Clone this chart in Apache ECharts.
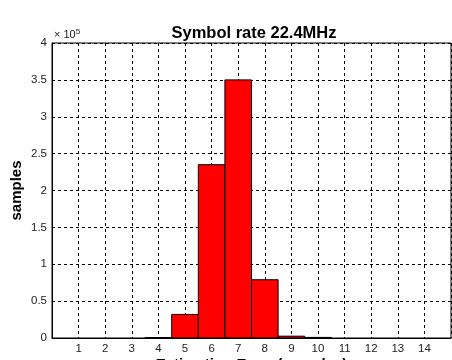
<!DOCTYPE html>
<html>
<head>
<meta charset="utf-8">
<script src="https://cdn.jsdelivr.net/npm/echarts@6/dist/echarts.min.js"></script>
<style>
  html, body { margin: 0; padding: 0; background: #fff; }
  #chart { width: 452px; height: 360px; }
</style>
</head>
<body>
<div id="chart"></div>
<script>
// Histogram of estimation error, counts in units of 1e5 samples
const errorBins = [4, 5, 6, 7, 8, 9, 10];
const sampleCounts = [0.006, 0.32, 2.35, 3.5, 0.79, 0.025, 0.008];
const xTicks = [1, 2, 3, 4, 5, 6, 7, 8, 9, 10, 11, 12, 13, 14];
const yTicks = [0, 0.5, 1, 1.5, 2, 2.5, 3, 3.5, 4];

const FONT = 'Liberation Sans, Arial, sans-serif';
const chart = echarts.init(document.getElementById('chart'), null, { renderer: 'canvas' });

const dashed = { show: true, lineStyle: { color: '#000', width: 1, type: [3, 3] } };

chart.setOption({
  animation: false,
  backgroundColor: '#fff',
  title: {
    text: 'Symbol rate 22.4MHz',
    left: 249,
    textAlign: 'center',
    top: 20,
    textStyle: { fontFamily: FONT, fontWeight: 'bold', fontSize: 16.5, color: '#000' }
  },
  grid: {
    left: 52, right: 1, top: 43, bottom: 22,
    outerBoundsMode: 'none',
    containLabel: false,
    show: true, borderColor: '#000', borderWidth: 1, backgroundColor: '#fff'
  },
  xAxis: {
    type: 'value',
    min: 0, max: 15, interval: 1,
    name: 'Estimation Error (samples)',
    nameLocation: 'middle',
    nameGap: 19,
    nameMoveOverlap: false,
    nameTextStyle: { fontFamily: FONT, fontWeight: 'bold', fontSize: 15, color: '#000' },
    axisLine: { show: true, lineStyle: { color: '#000', width: 1 } },
    axisTick: { show: false },
    splitLine: dashed,
    axisLabel: {
      fontFamily: FONT, fontSize: 11.5, color: '#222', margin: 5,
      showMinLabel: false, showMaxLabel: false,
      formatter: v => (xTicks.indexOf(v) >= 0 ? String(v) : '')
    }
  },
  yAxis: {
    type: 'value',
    min: 0, max: 4, interval: 0.5,
    name: 'samples',
    nameLocation: 'middle',
    nameGap: 28,
    nameMoveOverlap: false,
    nameTextStyle: { fontFamily: FONT, fontWeight: 'bold', fontSize: 15, color: '#000' },
    axisLine: { show: true, lineStyle: { color: '#000', width: 1 } },
    axisTick: { show: false },
    splitLine: dashed,
    axisLabel: {
      fontFamily: FONT, fontSize: 11.5, color: '#222', margin: 5,
      formatter: v => (yTicks.indexOf(v) >= 0 ? String(v) : '')
    }
  },
  graphic: [{
    type: 'text',
    left: 54, top: 28,
    style: {
      text: '× 10{sup|5}',
      fontFamily: FONT, fontSize: 11, fill: '#222',
      rich: { sup: { fontSize: 8, fontFamily: FONT, fill: '#222', verticalAlign: 'top', padding: [0, 0, 6, 0] } }
    }
  }],
  series: [{
    type: 'custom',
    data: errorBins.map((b, i) => [b, sampleCounts[i]]),
    encode: { x: 0, y: 1 },
    renderItem: function (params, api) {
      const c = api.value(0);
      const v = api.value(1);
      const p0 = api.coord([c - 0.5, v]);
      const p1 = api.coord([c + 0.5, 0]);
      return {
        type: 'rect',
        shape: { x: p0[0], y: p0[1], width: p1[0] - p0[0], height: p1[1] - p0[1] },
        style: { fill: '#ff0000', stroke: '#000', lineWidth: 1 }
      };
    }
  }]
});
</script>
</body>
</html>
